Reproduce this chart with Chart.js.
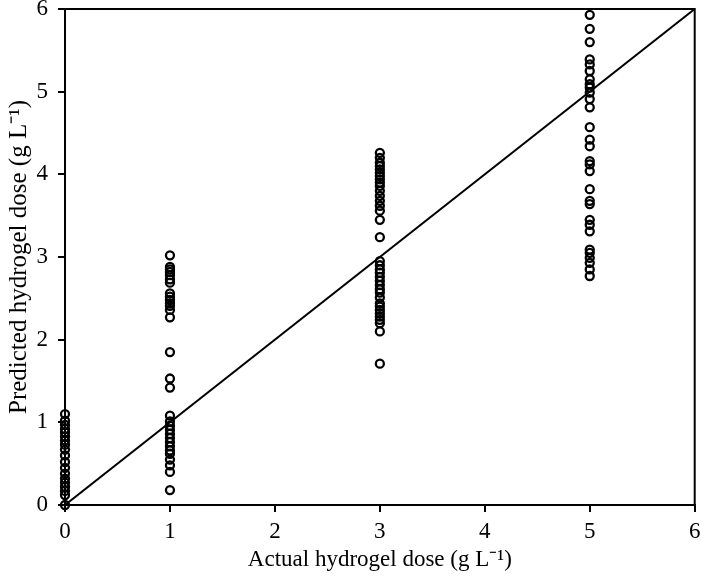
<!DOCTYPE html>
<html>
<head>
<meta charset="utf-8">
<script src="https://cdn.jsdelivr.net/npm/chart.js@4"></script>
<style>
    html, body { margin: 0; padding: 0; background: #fff; }
    #wrap { width: 701px; height: 578px; }
</style>
</head>
<body>
<div id="wrap"><canvas id="chart" width="701" height="578"></canvas></div>
<script>
// Actual dose groups and predicted values
const actualDoses = [0, 1, 3, 5];
const predDose0 = [1.1, 1.02, 0.97, 0.92, 0.88, 0.83, 0.78, 0.73, 0.67, 0.6, 0.52, 0.45, 0.38, 0.32, 0.27, 0.22, 0.17, 0.12, 0.0];
const predDose1 = [3.02, 2.88, 2.85, 2.82, 2.78, 2.73, 2.69, 2.56, 2.52, 2.48, 2.44, 2.41, 2.36, 2.27, 1.85, 1.53, 1.42, 1.08, 1.01, 0.96, 0.91, 0.86, 0.81, 0.76, 0.71, 0.66, 0.62, 0.55, 0.48, 0.40, 0.18];
const predDose3 = [4.26, 4.2, 4.14, 4.1, 4.06, 4.02, 3.98, 3.94, 3.9, 3.86, 3.8, 3.74, 3.68, 3.62, 3.56, 3.45, 3.24, 2.95, 2.9, 2.85, 2.81, 2.76, 2.71, 2.66, 2.61, 2.57, 2.51, 2.44, 2.4, 2.36, 2.32, 2.28, 2.24, 2.2, 2.1, 1.71];
const predDose5 = [5.93, 5.76, 5.6, 5.39, 5.33, 5.25, 5.15, 5.09, 5.05, 4.99, 4.91, 4.81, 4.57, 4.42, 4.34, 4.16, 4.12, 4.04, 3.82, 3.68, 3.64, 3.45, 3.39, 3.31, 3.09, 3.05, 2.99, 2.93, 2.85, 2.77];
const oneToOne = [0, 6];
const axisTicks = [0, 1, 2, 3, 4, 5, 6];

const groups = [predDose0, predDose1, predDose3, predDose5];
const points = [];
groups.forEach((vals, i) => {
    vals.forEach(v => points.push({ x: actualDoses[i], y: v }));
});

// Box around the plot area
const frame = {
    id: 'frame',
    afterDraw(chart) {
        const a = chart.chartArea;
        const ctx = chart.ctx;
        ctx.save();
        ctx.strokeStyle = '#000';
        ctx.lineWidth = 2;
        ctx.strokeRect(a.left, a.top, a.right - a.left, a.bottom - a.top);
        ctx.restore();
    }
};

// let end tick labels hang over the edges instead of shrinking the plot
function noOverhang(s) {
    s.paddingTop = 0;
    s.paddingBottom = 0;
    s.paddingLeft = 0;
    s.paddingRight = 0;
}

const serif = '"Liberation Serif", "Times New Roman", serif';
const tickFont = { family: serif, size: 23 };

new Chart(document.getElementById('chart'), {
    type: 'scatter',
    data: {
        datasets: [
            {
                data: points,
                pointStyle: 'circle',
                pointRadius: 4,
                borderWidth: 2.3,
                borderColor: '#000',
                backgroundColor: 'rgba(0,0,0,0)',
                clip: false,
                order: 2
            },
            {
                type: 'line',
                data: oneToOne.map(v => ({ x: v, y: v })),
                borderColor: '#000',
                borderWidth: 2,
                pointRadius: 0,
                order: 1
            }
        ]
    },
    options: {
        responsive: false,
        animation: false,
        layout: { padding: { top: 9, right: 6, left: 0, bottom: 0 } },
        plugins: { legend: { display: false }, tooltip: { enabled: false } },
        scales: {
            x: {
                type: 'linear', min: 0, max: 6,
                afterBuildTicks: s => { s.ticks = axisTicks.map(v => ({ value: v })); },
                afterFit: s => { s.height = 73; noOverhang(s); },
                grid: { drawOnChartArea: false, tickLength: 7, color: '#000', lineWidth: 2 },
                border: { color: '#000', width: 2 },
                ticks: { color: '#000', font: tickFont, padding: 6 },
                title: { display: true, text: 'Actual hydrogel dose (g L\u207B\u00B9)', color: '#000', font: { family: serif, size: 23 }, padding: { top: 1 } }
            },
            y: {
                type: 'linear', min: 0, max: 6,
                afterBuildTicks: s => { s.ticks = axisTicks.map(v => ({ value: v })); },
                afterFit: s => { s.width = 65; noOverhang(s); },
                grid: { drawOnChartArea: false, tickLength: 7, color: '#000', lineWidth: 2 },
                border: { color: '#000', width: 2 },
                ticks: { color: '#000', font: tickFont, padding: 10 },
                title: { display: true, text: 'Predicted hydrogel dose (g L\u207B\u00B9)', color: '#000', font: { family: serif, size: 25 }, padding: { bottom: 0 } }
            }
        }
    },
    plugins: [frame]
});
</script>
</body>
</html>
